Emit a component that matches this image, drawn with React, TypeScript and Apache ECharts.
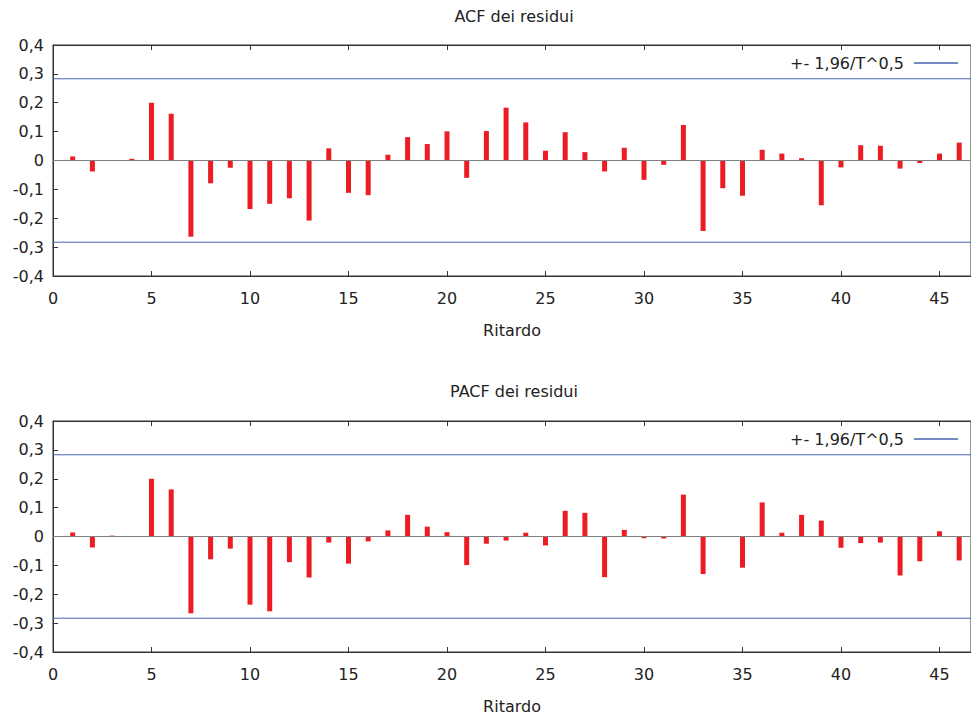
import React, { useEffect, useRef } from "react";
import * as echarts from "echarts";

const lags = [1,2,3,4,5,6,7,8,9,10,11,12,13,14,15,16,17,18,19,20,21,22,23,24,25,26,27,28,29,30,31,32,33,34,35,36,37,38,39,40,41,42,43,44,45,46];
const acfValues = [0.014,-0.038,0.001,0.006,0.200,0.162,-0.264,-0.079,-0.025,-0.168,-0.150,-0.131,-0.208,0.042,-0.112,-0.120,0.020,0.081,0.057,0.101,-0.060,0.102,0.183,0.132,0.034,0.098,0.029,-0.038,0.044,-0.067,-0.015,0.123,-0.244,-0.096,-0.122,0.037,0.024,0.008,-0.155,-0.024,0.053,0.051,-0.028,-0.009,0.024,0.062];
const pacfValues = [0.014,-0.038,0.003,-0.001,0.200,0.163,-0.266,-0.079,-0.042,-0.236,-0.259,-0.089,-0.142,-0.021,-0.094,-0.017,0.021,0.075,0.034,0.015,-0.099,-0.025,-0.014,0.013,-0.031,0.089,0.082,-0.141,0.023,-0.006,-0.007,0.145,-0.130,-0.001,-0.108,0.118,0.013,0.075,0.055,-0.039,-0.023,-0.021,-0.135,-0.086,0.018,-0.083];
const confBand = 0.283;
const xTicks = [0,5,10,15,20,25,30,35,40,45];
const yTicks = [-0.4,-0.3,-0.2,-0.1,0,0.1,0.2,0.3,0.4];
const titles = ["ACF dei residui", "PACF dei residui"];
const xLabel = "Ritardo";
const bandName = "+- 1,96/T^0,5";

const FONT = "DejaVu Sans";
const FS = 16;
const X_MAX = 46.6;
const RED = "#ed1c24";
const BLUE = "#4464ae";
const FRAME = "#333333";

export default function App() {
  const ref = useRef<HTMLDivElement>(null);
  useEffect(() => {
    if (!ref.current) return;
    const chart = echarts.init(ref.current, null, { renderer: "svg" });
    const grids = [
      { left: 53, top: 45, width: 918, height: 231 },
      { left: 53, top: 421, width: 918, height: 231 },
    ];
    const fmtY = (v: number) => (Math.abs(v) < 1e-9 ? "0" : v.toFixed(1).replace(".", ","));
    const xAxes: any[] = [];
    const yAxes: any[] = [];
    const series: any[] = [];
    const legends: any[] = [];
    const titleList: any[] = [];
    [acfValues, pacfValues].forEach((vals, gi) => {
      xAxes.push({
        type: "value", gridIndex: gi, position: "bottom", min: 0, max: X_MAX,
        name: xLabel, nameLocation: "middle", nameGap: 46,
        nameTextStyle: { fontFamily: FONT, fontSize: FS, color: "#222" },
        axisLine: { onZero: false, lineStyle: { color: FRAME, width: 1 } },
        axisTick: { inside: true, length: 5, customValues: xTicks, lineStyle: { color: FRAME } },
        axisLabel: { customValues: xTicks, margin: 14, fontFamily: FONT, fontSize: FS, color: "#222" },
        splitLine: { show: false },
      });
      xAxes.push({
        type: "value", gridIndex: gi, position: "top", min: 0, max: X_MAX,
        axisLine: { onZero: false, lineStyle: { color: FRAME, width: 1 } },
        axisTick: { inside: true, length: 5, customValues: xTicks, lineStyle: { color: FRAME } },
        axisLabel: { show: false },
        splitLine: { show: false },
      });
      yAxes.push({
        type: "value", gridIndex: gi, min: yTicks[0], max: yTicks[yTicks.length - 1], interval: 0.1,
        axisLine: { show: true, lineStyle: { color: FRAME, width: 1 } },
        axisTick: { inside: true, length: 5, lineStyle: { color: FRAME } },
        axisLabel: { margin: 9, fontFamily: FONT, fontSize: FS, color: "#222", formatter: fmtY },
        splitLine: { show: false },
      });
      series.push({
        type: "bar", xAxisIndex: gi * 2, yAxisIndex: gi, barWidth: 5,
        data: lags.map((l, i) => [l, vals[i]]),
        itemStyle: { color: RED },
        markLine: {
          silent: true, symbol: "none", label: { show: false },
          lineStyle: { color: "#808080", type: "solid", width: 1 },
          data: [{ yAxis: 0 }],
        },
      });
      [confBand, -confBand].forEach((c) => {
        series.push({
          type: "line", name: bandName, xAxisIndex: gi * 2, yAxisIndex: gi,
          data: [[0, c], [X_MAX, c]], symbol: "none",
          lineStyle: { color: BLUE, width: 1 }, itemStyle: { color: BLUE },
        });
      });
      legends.push({
        data: [bandName], right: 8, top: gi === 0 ? 50 : 426, align: "right",
        icon: "rect", itemWidth: 44, itemHeight: 1.5,
        textStyle: { fontFamily: FONT, fontSize: FS, color: "#222", padding: [0, 5, 0, 0] },
        selectedMode: false,
      });
      titleList.push({
        text: titles[gi], left: 509, top: gi === 0 ? 3 : 378, textAlign: "center",
        textStyle: { fontFamily: FONT, fontSize: FS, fontWeight: "normal", color: "#222" },
      });
    });
    chart.setOption({
      animation: false,
      backgroundColor: "#ffffff",
      title: titleList,
      legend: legends,
      grid: grids.map((g) => ({ ...g, show: true, borderColor: FRAME, borderWidth: 1 })),
      xAxis: xAxes,
      yAxis: yAxes,
      series,
    });
    return () => chart.dispose();
  }, []);
  return <div ref={ref} style={{ position: "fixed", left: 0, top: 0, width: 971, height: 717 }} />;
}
